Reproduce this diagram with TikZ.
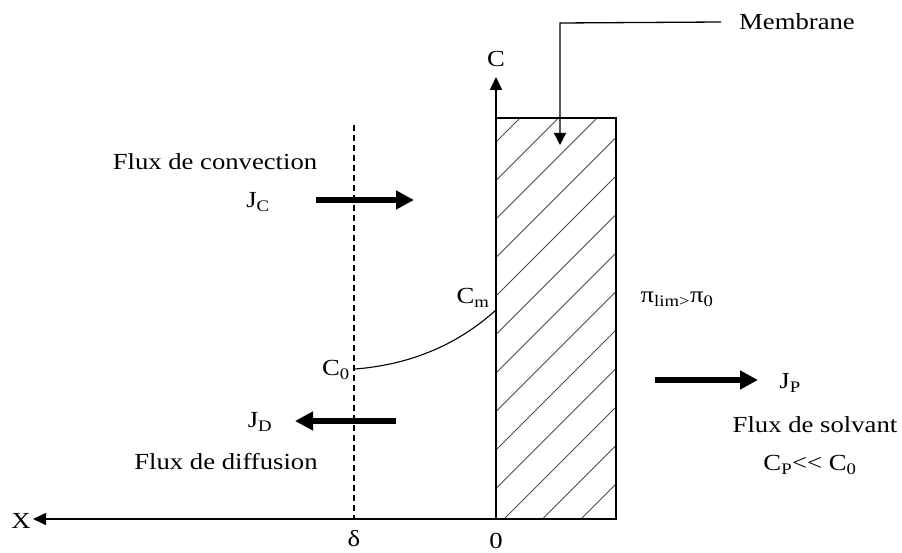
\documentclass[tikz,border=0pt]{standalone}
\usepackage{fontspec}
\setmainfont{Liberation Serif}[FakeStretch=1.16]
\usetikzlibrary{arrows.meta}
\begin{document}
\begin{tikzpicture}[x=1pt,y=-1pt,
  lbl/.style={inner sep=0pt, font=\fontsize{23}{27}\selectfont},
  flux/.style={line width=5.5pt, -{Triangle[length=18pt,width=18pt]}},
  axisline/.style={line width=1.6pt, -{Triangle[length=13pt,width=12pt]}},
  thinline/.style={line width=1.3pt},
  hatchline/.style={line width=0.9pt, black!70},
]
\useasboundingbox (0,0) rectangle (902,553);
% coordinates
\coordinate (O) at (496,519);
\coordinate (Ctip) at (496,77);
\coordinate (Xtip) at (33,519);
\coordinate (dtop) at (354,125);
\coordinate (dbot) at (354,519);
\coordinate (mTL) at (496,118);
\coordinate (mBR) at (616,519);
% hatching
\begin{scope}
  \clip (mTL) rectangle (mBR);
  \foreach \k in {-1,...,13}{
    \pgfmathsetmacro{\c}{638+38.5*\k}
    \draw[hatchline] (\c-640,640) -- (\c,0);
  }
\end{scope}
\draw[thinline] (mTL) rectangle (mBR);
% axes
\draw[axisline] (O) -- (Ctip);
\draw[axisline] (mBR) -- (O) -- (Xtip);
% dashed delta line
\draw[line width=1.3pt, dash pattern=on 6pt off 4pt] (dtop) -- (dbot);
% labels
\node[lbl] (Clab) at (496,59) {C};
\node[lbl] (Xlab) at (21,521) {X};
\node[lbl] (dlab) at (354,539) {δ};
\node[lbl] (zlab) at (496,541) {0};
\node[lbl] (memb) at (797,22) {Membrane};
\coordinate (mcorner) at (560,23);
\coordinate (mtip) at (560,145);
\draw[thinline, -{Triangle[length=12pt,width=12pt]}] (memb.west) ++(-18,0) coordinate (mstart) -- (mcorner) -- (mtip);
% concentration profile
\coordinate (c0) at (355,369);
\coordinate (cm) at (496,310);
\draw[line width=1.1pt] (c0) .. controls (420,364) and (465,338) .. (cm);
\node[lbl] (C0lab) at (336,370) {C\textsubscript{0}};
\node[lbl] (Cmlab) at (473,298) {C\textsubscript{m}};
% convection
\node[lbl] (fconv) at (215,162) {Flux de convection};
\node[lbl] (JC) at (258,202) {J\textsubscript{C}};
\coordinate (jc1) at (316,200);
\coordinate (jc2) at (414,200);
\draw[flux] (jc1) -- (jc2);
% diffusion
\coordinate (jd1) at (396,421);
\coordinate (jd2) at (295,421);
\draw[flux] (jd1) -- (jd2);
\node[lbl] (JD) at (260,422) {J\textsubscript{D}};
\node[lbl] (fdiff) at (226,462) {Flux de diffusion};
% permeate side
\node[lbl] (pi) at (677,299) {π\textsubscript{lim>}π\textsubscript{0}};
\coordinate (jp1) at (655,380);
\coordinate (jp2) at (758,380);
\draw[flux] (jp1) -- (jp2);
\node[lbl] (JP) at (790,383) {J\textsubscript{P}};
\node[lbl] (fsolv) at (815,425) {Flux de solvant};
\node[lbl] (cp) at (810,465) {C\textsubscript{P}<\kern0pt< C\textsubscript{0}};
\end{tikzpicture}
\end{document}
